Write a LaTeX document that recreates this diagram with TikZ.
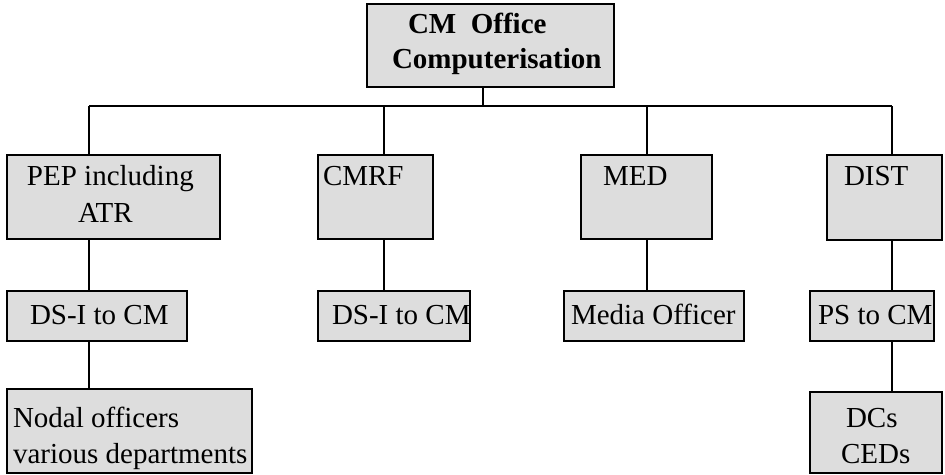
\documentclass[tikz,border=0pt]{standalone}
\usepackage{fontspec}
\setmainfont{Liberation Serif}
\begin{document}
\definecolor{boxfill}{RGB}{221,221,221}
\begin{tikzpicture}[x=1pt,y=-1pt,
  box/.style={draw=black,fill=boxfill,line width=1.4pt,anchor=north west,inner sep=0pt,outer sep=0pt},
  txt/.style={anchor=base west,inner sep=0pt,outer sep=0pt,font=\fontsize{29}{35}\selectfont},
  btxt/.style={txt,font=\fontsize{29}{35}\selectfont\bfseries},
  conn/.style={line width=1.4pt}]
\useasboundingbox (0,0) rectangle (945,474);
% boxes
\node[box,minimum width=247pt,minimum height=83pt] (top) at (367,4) {};
\node[box,minimum width=213pt,minimum height=84pt] (pep) at (7,155) {};
\node[box,minimum width=115pt,minimum height=84pt] (cmrf) at (318,155) {};
\node[box,minimum width=131pt,minimum height=84pt] (med) at (581,155) {};
\node[box,minimum width=115pt,minimum height=85pt] (dist) at (827,155) {};
\node[box,minimum width=180pt,minimum height=50pt] (ds1) at (7,291) {};
\node[box,minimum width=152pt,minimum height=50pt] (ds2) at (318,291) {};
\node[box,minimum width=180pt,minimum height=50pt] (media) at (564,291) {};
\node[box,minimum width=124pt,minimum height=50pt] (ps) at (810,291) {};
\node[box,minimum width=245pt,minimum height=84pt] (nodal) at (7,389) {};
\node[box,minimum width=132pt,minimum height=81pt] (dcs) at (810,392) {};
% texts
\node[btxt] (t1) at (408,33) {CM\ \ Office};
\node[btxt] (t2) at (392,68) {Computerisation};
\node[txt] (t3) at (27,185) {PEP including};
\node[txt] (t4) at (78,222) {ATR};
\node[txt] (t5) at (323,185) {CMRF};
\node[txt] (t6) at (603,185) {MED};
\node[txt] (t7) at (844,185) {DIST};
\node[txt] (t8) at (30,324) {DS-I to CM};
\node[txt] (t9) at (332,324) {DS-I to CM};
\node[txt] (t10) at (571,324) {Media Officer};
\node[txt] (t11) at (818,324) {PS to CM};
\node[txt] (t12) at (13,427) {Nodal officers};
\node[txt] (t13) at (13,463) {various departments};
\node[txt] (t14) at (846,427) {DCs};
\node[txt] (t15) at (841,463) {CEDs};
% bus coordinates
\coordinate (bt) at (483,106);
\coordinate (b1) at (89,106);
\coordinate (b2) at (384,106);
\coordinate (b3) at (647,106);
\coordinate (b4) at (892,106);
% connectors
\draw[conn] (bt |- top.south) -- (bt);
\draw[conn] (b1) -- (b4);
\draw[conn] (b1) -- (b1 |- pep.north);
\draw[conn] (b2) -- (b2 |- cmrf.north);
\draw[conn] (b3) -- (b3 |- med.north);
\draw[conn] (b4) -- (b4 |- dist.north);
\draw[conn] (b1 |- pep.south) -- (b1 |- ds1.north);
\draw[conn] (b1 |- ds1.south) -- (b1 |- nodal.north);
\draw[conn] (b2 |- cmrf.south) -- (b2 |- ds2.north);
\draw[conn] (b3 |- med.south) -- (b3 |- media.north);
\draw[conn] (b4 |- dist.south) -- (b4 |- ps.north);
\draw[conn] (b4 |- ps.south) -- (b4 |- dcs.north);
\end{tikzpicture}
\end{document}
